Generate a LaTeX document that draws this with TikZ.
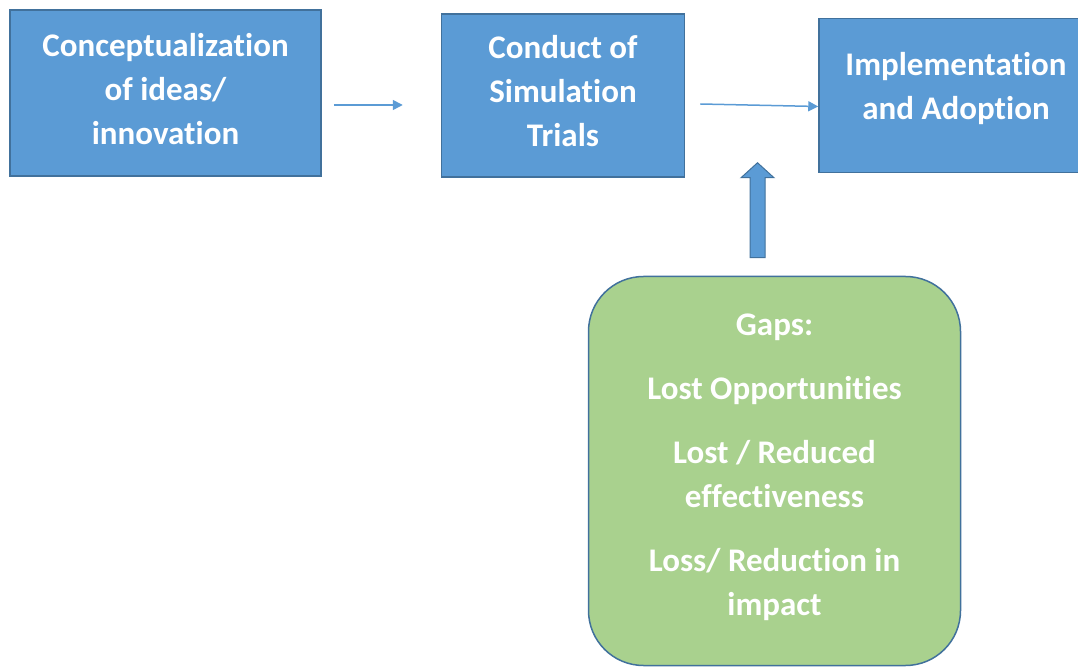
\documentclass[tikz,border=0pt]{standalone}
\usepackage{fontspec}
\setmainfont{Carlito}[Ligatures=NoCommon]
\usetikzlibrary{arrows.meta,positioning}

\definecolor{boxblue}{HTML}{5B9BD5}
\definecolor{edgeblue}{HTML}{41719C}
\definecolor{gapgreen}{HTML}{A9D18E}

% lift a block of lines without changing its size
\newcommand{\liftlines}[2]{\raisebox{#1}[\height][\depth]{\begin{tabular}{@{}c@{}}#2\end{tabular}}}

\begin{document}
\begin{tikzpicture}[
        x=1pt, y=1pt,
        node distance=98pt and 119pt,
        every node/.style={align=center, text=white, font=\fontsize{33}{44}\selectfont\bfseries},
        stage/.style={draw=edgeblue, line width=1.5pt, fill=boxblue, inner sep=0pt},
        gapbox/.style={draw=edgeblue, line width=1.5pt, fill=gapgreen, rounded corners=55pt, inner sep=0pt, minimum width=372pt, minimum height=389pt},
        flow/.style={draw=boxblue, line width=1.5pt, -{Triangle[length=10pt,width=10pt]}}
    ]
  \useasboundingbox (0,0) rectangle (1078,667);

  % Nodes
  \node (concept) [stage, minimum width=311pt, minimum height=166pt] at (165.5,574) {\liftlines{1pt}{Conceptualization\\of ideas/\\innovation}};
  \node (trials) [stage, minimum width=243pt, minimum height=163pt, right=of concept, yshift=-2.5pt] {\liftlines{1.5pt}{Conduct of\\Simulation\\Trials}};
  \node (implement) [stage, minimum width=274pt, minimum height=154pt, right=133pt of trials] {\liftlines{7pt}{Implementation\\and Adoption}};
  \node (gaps) [gapbox, below=of trials, xshift=211.5pt] {\liftlines{4pt}{Gaps:\\[20pt]Lost Opportunities\\[20pt]Lost / Reduced\\effectiveness\\[20pt]Loss/ Reduction in\\impact}};
  \coordinate (push) at ([xshift=-17pt,yshift=18pt]gaps.north);

  \draw[flow] ([xshift=12pt,yshift=-12pt]concept.east) -- ([xshift=-38pt,yshift=-9.5pt]trials.west);
  \draw[flow] ([xshift=15pt,yshift=-8.5pt]trials.east) -- ([yshift=-11pt]implement.west);
  % block arrow up from the gaps
  \draw[draw=edgeblue, fill=boxblue, line width=1pt] (push) ++(-7.5,0) -- ++(0,80) -- ++(-9,0) -- ++(16.5,15) -- ++(16.5,-15) -- ++(-9,0) -- ++(0,-80) -- cycle;
\end{tikzpicture}
\end{document}
